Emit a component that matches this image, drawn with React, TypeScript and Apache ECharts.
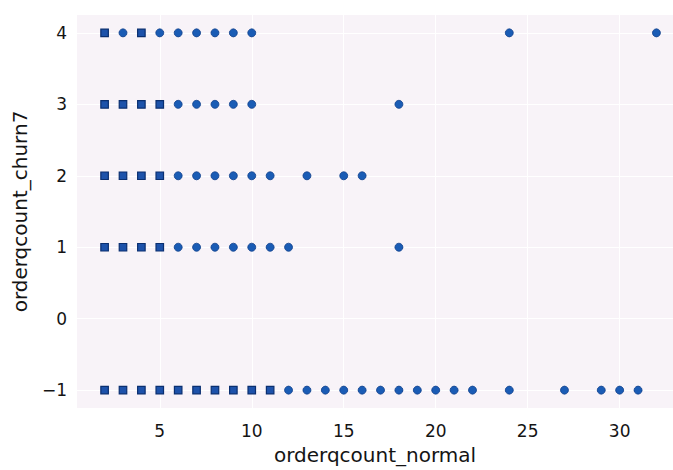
import React, { useEffect, useRef } from "react";
import * as echarts from "echarts";

// orderqcount_normal values observed for each orderqcount_churn7 level
const churnLevels = [4, 3, 2, 1, -1];
const normalAtChurn4 = [2, 3, 4, 5, 6, 7, 8, 9, 10, 24, 32];
const normalAtChurn3 = [2, 3, 4, 5, 6, 7, 8, 9, 10, 18];
const normalAtChurn2 = [2, 3, 4, 5, 6, 7, 8, 9, 10, 11, 13, 15, 16];
const normalAtChurn1 = [2, 3, 4, 5, 6, 7, 8, 9, 10, 11, 12, 18];
const normalAtChurnNeg1 = [
  2, 3, 4, 5, 6, 7, 8, 9, 10, 11, 12, 13, 14, 15, 16, 17, 18, 19, 20, 21, 22,
  24, 27, 29, 30, 31,
];
// heavily overplotted positions, drawn as square markers
const denseAtChurn4 = [2, 4];
const denseAtChurn3 = [2, 3, 4, 5];
const denseAtChurn2 = [2, 3, 4, 5];
const denseAtChurn1 = [2, 3, 4, 5];
const denseAtChurnNeg1 = [2, 3, 4, 5, 6, 7, 8, 9, 10, 11];

const rows = [
  { y: churnLevels[0], xs: normalAtChurn4, dense: denseAtChurn4 },
  { y: churnLevels[1], xs: normalAtChurn3, dense: denseAtChurn3 },
  { y: churnLevels[2], xs: normalAtChurn2, dense: denseAtChurn2 },
  { y: churnLevels[3], xs: normalAtChurn1, dense: denseAtChurn1 },
  { y: churnLevels[4], xs: normalAtChurnNeg1, dense: denseAtChurnNeg1 },
];

const squarePoints: number[][] = [];
const circlePoints: number[][] = [];
rows.forEach((r) => {
  r.xs.forEach((x) => {
    if (r.dense.includes(x)) squarePoints.push([x, r.y]);
    else circlePoints.push([x, r.y]);
  });
});

const FONT = "DejaVu Sans";
const TEXT = "#141414";

export default function App() {
  const ref = useRef<HTMLDivElement>(null);

  useEffect(() => {
    document.body.style.margin = "0";
    if (!ref.current) return;
    const chart = echarts.init(ref.current, undefined, { renderer: "svg" });
    chart.setOption({
      animation: false,
      backgroundColor: "#ffffff",
      grid: {
        left: 77,
        right: 0,
        top: 15,
        bottom: 59,
        show: true,
        backgroundColor: "#f8f3f8",
        borderWidth: 0,
      },
      xAxis: {
        type: "value",
        min: 0.5,
        max: 32.9,
        minInterval: 5,
        maxInterval: 5,
        name: "orderqcount_normal",
        nameLocation: "middle",
        nameGap: 37,
        nameTextStyle: { fontFamily: FONT, fontSize: 20, color: TEXT },
        axisLine: { show: false },
        axisTick: { show: false },
        axisLabel: {
          margin: 14,
          fontFamily: FONT,
          fontSize: 17,
          color: TEXT,
          showMinLabel: false,
          showMaxLabel: false,
        },
        splitLine: {
          show: true,
          showMinLine: false,
          showMaxLine: false,
          lineStyle: { color: "#ffffff", width: 1 },
        },
      },
      yAxis: {
        type: "value",
        min: -1.25,
        max: 4.25,
        minInterval: 1,
        maxInterval: 1,
        name: "orderqcount_churn7",
        nameLocation: "middle",
        nameGap: 47,
        nameTextStyle: { fontFamily: FONT, fontSize: 20, color: TEXT },
        axisLine: { show: false },
        axisTick: { show: false },
        axisLabel: {
          margin: 10,
          fontFamily: FONT,
          fontSize: 17,
          color: TEXT,
          showMinLabel: false,
          showMaxLabel: false,
          formatter: (v: number) => (v < 0 ? "\u2212" + Math.abs(v) : String(v)),
        },
        splitLine: {
          show: true,
          showMinLine: false,
          showMaxLine: false,
          lineStyle: { color: "#ffffff", width: 1 },
        },
      },
      series: [
        {
          type: "scatter",
          data: circlePoints,
          symbol: "circle",
          symbolSize: 8,
          itemStyle: {
            color: "#1a5cb5",
            borderColor: "#0f3f8a",
            borderWidth: 0.8,
            opacity: 1,
          },
        },
        {
          type: "scatter",
          data: squarePoints,
          symbol: "rect",
          symbolSize: 7.5,
          itemStyle: {
            color: "#1d52aa",
            borderColor: "#0a2f70",
            borderWidth: 1.2,
            opacity: 1,
          },
        },
      ],
    });
    return () => chart.dispose();
  }, []);

  return <div ref={ref} style={{ width: 673, height: 470 }} />;
}
